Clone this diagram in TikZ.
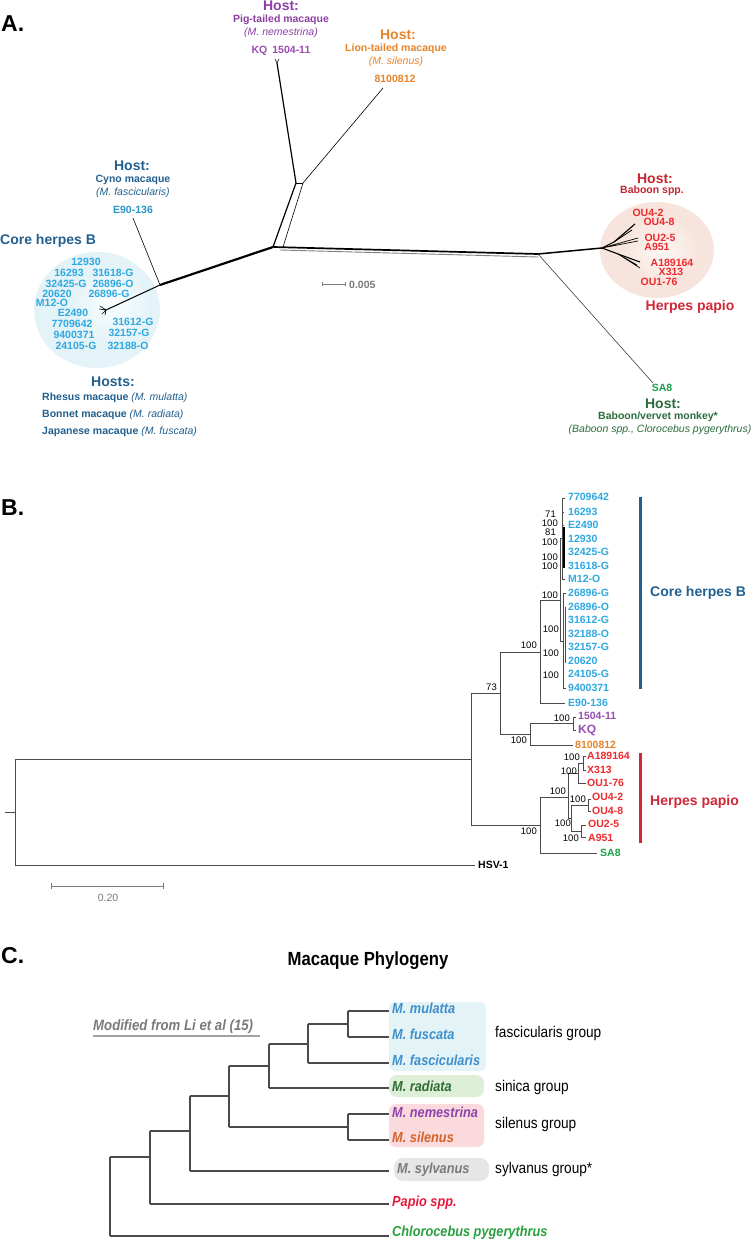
\documentclass[tikz,border=0pt]{standalone}
\usepackage{fontspec}
\setmainfont{Liberation Sans}
\newfontfamily\narrowf[FakeStretch=0.88]{Liberation Sans}
\newcommand{\fsz}[1]{\fontsize{#1}{#1}\selectfont}
\definecolor{hostblue}{HTML}{22608F}
\definecolor{leafblue}{HTML}{2EA8E0}
\definecolor{cynoleaf}{HTML}{2A93C8}
\definecolor{purp}{HTML}{8E3FA6}
\definecolor{purpleaf}{HTML}{9A4DB3}
\definecolor{orng}{HTML}{E8832A}
\definecolor{redleaf}{HTML}{EE2A2E}
\definecolor{darkred}{HTML}{C4262E}
\definecolor{papiored}{HTML}{D02839}
\definecolor{sagreen}{HTML}{1BA14B}
\definecolor{hostgreen}{HTML}{2B6E3B}
\definecolor{treegray}{HTML}{4A4A4A}
\definecolor{scalegray}{HTML}{7A7A7A}
\definecolor{cblue}{HTML}{3E8FCB}
\definecolor{cdgreen}{HTML}{2E6B35}
\definecolor{cpurple}{HTML}{8E44AD}
\definecolor{corange}{HTML}{D4622A}
\definecolor{cgray}{HTML}{7A7A7A}
\definecolor{cred}{HTML}{E8193C}
\definecolor{cgreen}{HTML}{2AA040}
\definecolor{boxcyan}{HTML}{E3F3F6}
\definecolor{boxgreen}{HTML}{DDEFD6}
\definecolor{boxpink}{HTML}{FADADD}
\definecolor{boxgray}{HTML}{E6E6E6}
\definecolor{coreout}{HTML}{E4F3F8}
\definecolor{corein}{HTML}{FAFDFE}
\definecolor{papout}{HTML}{F7E5DD}
\definecolor{papin}{HTML}{FDF8F6}
\begin{document}
\begin{tikzpicture}[x=1pt,y=-1pt,
  lf/.style={inner sep=0pt, font=\fsz{10.5}\bfseries},
  hostt/.style={inner sep=0pt, font=\fsz{14}\bfseries},
  subt/.style={inner sep=0pt, font=\fsz{10.5}\bfseries},
  spt/.style={inner sep=0pt, font=\fsz{10.5}\itshape},
  bs/.style={inner sep=0pt, anchor=east, font=\fsz{9.5}},
  panel/.style={inner sep=0pt, anchor=west, font=\fsz{23}\bfseries},
  tr/.style={draw=treegray, line width=0.9pt},
  ct/.style={draw=treegray, line width=1.1pt},
  an/.style={draw=black, line width=0.6pt},
  cl/.style={inner sep=0pt, anchor=west, font=\narrowf\fsz{14.5}\bfseries\itshape},
  grp/.style={inner sep=0pt, anchor=west, font=\narrowf\fsz{15.5}},
  bar/.style={line width=3pt}
]
\useasboundingbox (0,0) rectangle (755,1241);
\fill[white] (0,0) rectangle (755,1241);

% ================= PANEL A =================
\node[panel] (pA) at (1,24) {A.};

% background ellipses
\fill[coreout] (97,310) ellipse [x radius=63pt, y radius=58pt];
\shade[inner color=corein, outer color=coreout] (112,305) ellipse [x radius=40pt, y radius=38pt];
\fill[papout] (657,250) ellipse [x radius=57pt, y radius=48pt];
\shade[inner color=papin, outer color=papout] (660,250) ellipse [x radius=38pt, y radius=32pt];

% unrooted tree
\coordinate (kqtip) at (277,63);
\coordinate (lntip) at (383,88);
\coordinate (pign) at (296,183);
\coordinate (lionn) at (303,183);
\coordinate (cen) at (273,247);
\coordinate (cenr) at (283,247);
\coordinate (sa8n) at (538,254);
\coordinate (papn) at (602,248);
\coordinate (sa8tip) at (653,383);
\coordinate (coren) at (160,285);
\coordinate (e90tip) at (133,218);
\coordinate (coretip) at (106,310);

\draw[black, line width=1.2pt] (kqtip) -- (pign);
\draw[an] (kqtip) -- ++(-2,-4) (kqtip) -- ++(2,-4);
\draw[an] (lntip) -- (lionn);
\draw[an] (pign) -- (lionn);
\draw[black, line width=1.2pt] (pign) -- (cen);
\draw[an] (lionn) -- (cenr);
\draw[gray, line width=0.9pt] (280,250) -- (538,257);
\draw[black, line width=1.7pt] (cen) -- (sa8n);
\draw[black, line width=1.5pt] (sa8n) -- (papn);
\draw[an, draw=black!75] (sa8n) -- (sa8tip);
\draw[black, line width=1.1pt] (papn) -- (614,242) -- (635,224);
\draw[black, line width=0.8pt] (614,242) -- (632,230);
\draw[black, line width=0.7pt] (papn) -- (638,238) (papn) -- (638,241);
\draw[black, line width=1.1pt] (papn) -- (618,254) -- (640,262);
\draw[black, line width=0.7pt] (618,254) -- (640,268) (618,254) -- (637,265);
\draw[black, line width=2.2pt] (cen) -- (coren);
\draw[an] (coren) -- (e90tip);
\draw[black, line width=1.0pt] (coren) -- (coretip);
\draw[black, line width=0.6pt] (coretip) -- ++(-6,-4) (coretip) -- ++(-7,-1) (coretip) -- ++(-4,4) (coretip) -- ++(-1,5);

% scale bar A
\coordinate (sbA1) at (322,284);
\coordinate (sbA2) at (345,284);
\draw[scalegray, line width=0.7pt] (sbA1) -- (sbA2) (sbA1) ++(0,-2) -- ++(0,4) (sbA2) ++(0,-2) -- ++(0,4);
\node[inner sep=0pt, anchor=west, text=scalegray, font=\fsz{10.5}\bfseries] (sbAt) at (349,285) {0.005};

% pig-tailed
\node[hostt, text=purp] (pigH) at (281,6) {Host:};
\node[subt, text=purp] (pigS) at (281,20) {Pig-tailed macaque};
\node[spt, text=purp] (pigI) at (281,33) {(M. nemestrina)};
\node[lf, text=purpleaf] (pigL) at (281,51) {KQ\hspace{5pt}1504-11};
% lion-tailed
\node[hostt, text=orng] (lionH) at (398,35) {Host:};
\node[subt, text=orng] (lionS) at (396,49) {Lion-tailed macaque};
\node[spt, text=orng] (lionI) at (396,62) {(M. silenus)};
\node[lf, text=orng] (lionL) at (395,79) {8100812};
% cyno
\node[hostt, text=hostblue] (cynoH) at (132,166) {Host:};
\node[subt, text=hostblue] (cynoS) at (133,180) {Cyno macaque};
\node[spt, text=hostblue] (cynoI) at (133,193) {(M. fascicularis)};
\node[lf, text=cynoleaf] (cynoL) at (133,210) {E90-136};
% core
\node[inner sep=0pt, anchor=west, text=hostblue, font=\fsz{14}\bfseries] (coreA) at (0,241) {Core herpes B};
\foreach \n/\t/\x/\y in {a1/12930/86/262, a2/16293/69/273, a3/31618-G/113/273, a4/32425-G/66/284, a5/26896-O/113/284, a6/20620/57/294, a7/26896-G/109/294, a8/M12-O/52/303, a9/E2490/73/313, a10/7709642/72/324, a11/31612-G/133/322, a12/9400371/74/335, a13/32157-G/129/333, a14/24105-G/76/346, a15/32188-O/128/346}
  \node[lf, text=leafblue] (\n) at (\x,\y) {\t};
\node[hostt, text=hostblue] (hostsA) at (113,382) {Hosts:};
\node[inner sep=0pt, anchor=west, text=hostblue, font=\fsz{10.5}] (h1) at (42,398) {\bfseries Rhesus macaque \itshape\mdseries(M. mulatta)};
\node[inner sep=0pt, anchor=west, text=hostblue, font=\fsz{10.5}] (h2) at (42,415) {\bfseries Bonnet macaque \itshape\mdseries(M. radiata)};
\node[inner sep=0pt, anchor=west, text=hostblue, font=\fsz{10.5}] (h3) at (42,432) {\bfseries Japanese macaque \itshape\mdseries(M. fuscata)};
% baboon
\node[hostt, text=darkred] (babH) at (655,179) {Host:};
\node[subt, text=darkred] (babS) at (652,191) {Baboon spp.};
\foreach \n/\t/\x/\y in {p1/OU4-2/648/213, p2/OU4-8/659/222, p3/OU2-5/660/238, p4/A951/657/247, p5/A189164/672/263, p6/X313/671/272, p7/OU1-76/659/282}
  \node[lf, text=redleaf] (\n) at (\x,\y) {\t};
\node[inner sep=0pt, text=papiored, font=\fsz{14}\bfseries] (papA) at (690,307) {Herpes papio};
% SA8
\node[lf, text=sagreen] (sa8A) at (662,388) {SA8};
\node[hostt, text=hostgreen] (sa8H) at (663,404) {Host:};
\node[subt, text=hostgreen] (sa8S) at (658,417) {Baboon/vervet monkey*};
\node[spt, text=hostgreen] (sa8I) at (660,430) {(Baboon spp., Clorocebus pygerythrus)};

% ================= PANEL B =================
\node[panel] (pB) at (1,508) {B.};

\foreach \n/\t/\y in {b1/7709642/497, b2/16293/512, b3/E2490/525, b4/12930/539, b5/32425-G/552, b6/31618-G/566, b7/M12-O/579, b8/26896-G/593, b9/26896-O/607, b10/31612-G/620, b11/32188-O/634, b12/32157-G/647, b13/20620/661, b14/24105-G/674, b15/9400371/688, b16/E90-136/703}
  \node[lf, text=leafblue, anchor=west] (\n) at (568,\y) {\t};
\node[lf, text=purpleaf, anchor=west] (bKQ1) at (578,716) {1504-11};
\node[lf, text=purpleaf, anchor=west, font=\fsz{12}\bfseries] (bKQ) at (578,730) {KQ};
\node[lf, text=orng, anchor=west] (bLion) at (575,745) {8100812};
\foreach \n/\t/\x/\y in {r1/A189164/587/756, r2/X313/587/770, r3/OU1-76/587/783, r4/OU4-2/592/797, r5/OU4-8/592/811, r6/OU2-5/588/824, r7/A951/588/838}
  \node[lf, text=redleaf, anchor=west] (\n) at (\x,\y) {\t};
\node[lf, text=sagreen, anchor=west] (bSA8) at (600,853) {SA8};
\node[lf, text=black, anchor=west] (bHSV) at (478,865) {HSV-1};

% tree B
\coordinate (root) at (15,812);
\coordinate (rootU) at (15,759);
\coordinate (rootD) at (15,865);
\coordinate (nA) at (471,759);
\coordinate (nAu) at (471,693);
\coordinate (nAd) at (471,825);
\coordinate (nE) at (540,703);
\coordinate (nL) at (530,745);
\coordinate (nS) at (540,853);
\draw[tr] (5,812) -- (root);
\draw[tr] (rootU) -- (rootD);
\draw[tr] (rootU) -- (nA);
\draw[tr] (rootD) -- ([xshift=-3pt]bHSV.west |- rootD);
\draw[tr] (nAu) -- (nAd);
\draw[tr] (nAu) -- (500,693);
\draw[tr] (500,652) -- (500,734);
\draw[tr] (500,652) -- (540,652);
\draw[tr] (540,600) -- (nE);
\draw[tr] (nE) -- ([xshift=-3pt]b16.west |- nE);
\draw[tr] (540,600) -- (560,600);
\draw[tr] (560,538) -- (560,641);
\draw[tr] (560,538) -- (562,538);
\draw[tr] (560,641) -- (563,641);
\draw[tr] (562,498) -- (562,579);
\draw[tr] (562,498) -- (565,498) (562,579) -- (565,579);
\draw[black, line width=1.4pt] (564,527) -- (564,568);
\draw[tr, line width=0.7pt] (562,512) -- (564,512) (562,525) -- (564,525);
\draw[tr] (563,593) -- (563,688);
\draw[tr] (563,593) -- (566,593) (563,688) -- (566,688);
\draw[tr, line width=0.7pt] (565,607) -- (565,663);
% purple / orange clade
\draw[tr] (500,734) -- (530,734);
\draw[tr] (530,723) -- (nL);
\draw[tr] (530,723) -- (573,723);
\draw[tr] (573,717) -- (573,730);
\draw[tr] (573,717) -- (576,717) (573,730) -- (576,730);
\draw[tr] (nL) -- ([xshift=-2pt]bLion.west |- nL);
% papio clade
\draw[tr] (nAd) -- (540,825);
\draw[tr] (540,797) -- (nS);
\draw[tr] (nS) -- ([xshift=-3pt]bSA8.west |- nS);
\draw[tr] (540,797) -- (568,797);
\draw[tr] (568,773) -- (568,818);
\draw[tr] (568,773) -- (578,773);
\draw[tr] (578,763) -- (578,783);
\draw[tr] (578,763) -- (583,763);
\draw[tr] (583,756) -- (583,770);
\draw[tr] (583,756) -- (586,756) (583,770) -- (586,770);
\draw[tr] (578,783) -- (586,783);
\draw[tr] (568,818) -- (571,818);
\draw[tr] (571,805) -- (571,831);
\draw[tr] (571,805) -- (588,805);
\draw[tr] (588,799) -- (588,811);
\draw[tr] (588,799) -- (591,799) (588,811) -- (591,811);
\draw[tr] (571,831) -- (581,831);
\draw[tr] (581,825) -- (581,837);
\draw[tr] (581,825) -- (586,825) (581,837) -- (586,837);

% bootstrap labels
\node[bs] (s1) at (556,514) {71};
\node[bs] (s2) at (558,523) {100};
\node[bs] (s3) at (556,532) {81};
\node[bs] (s4) at (558,542) {100};
\node[bs] (s5) at (558,557) {100};
\node[bs] (s6) at (558,566) {100};
\node[bs] (s7) at (558,595) {100};
\node[bs] (s8) at (559,629) {100};
\node[bs] (s9) at (559,653) {100};
\node[bs] (s10) at (559,675) {100};
\node[bs] (s11) at (537,645) {100};
\node[bs] (s12) at (497,687) {73};
\node[bs] (s13) at (527,740) {100};
\node[bs] (s14) at (570,718) {100};
\node[bs] (s15) at (580,757) {100};
\node[bs] (s16) at (577,771) {100};
\node[bs] (s17) at (566,791) {100};
\node[bs] (s18) at (586,799) {100};
\node[bs] (s19) at (571,823) {100};
\node[bs] (s20) at (579,838) {100};
\node[bs] (s21) at (537,831) {100};

% clade bars
\coordinate (cb1) at (640,497);
\coordinate (cb2) at (640,689);
\draw[bar, draw=hostblue] (cb1) -- (cb2);
\node[inner sep=0pt, anchor=west, text=hostblue, font=\fsz{14}\bfseries] (coreB) at (650,593) {Core herpes B};
\coordinate (pb1) at (640,753);
\coordinate (pb2) at (640,843);
\draw[bar, draw=papiored] (pb1) -- (pb2);
\node[inner sep=0pt, anchor=west, text=papiored, font=\fsz{14}\bfseries] (papB) at (650,802) {Herpes papio};

% scale bar B
\coordinate (sbB1) at (51,886);
\coordinate (sbB2) at (163,886);
\draw[scalegray, line width=0.8pt] (sbB1) -- (sbB2) (sbB1) ++(0,-3) -- ++(0,6) (sbB2) ++(0,-3) -- ++(0,6);
\node[inner sep=0pt, text=scalegray, font=\fsz{10.5}] (sbBt) at (108,898) {0.20};

% ================= PANEL C =================
\node[panel] (pC) at (1,956) {C.};
\node[inner sep=0pt, font=\narrowf\fsz{19}\bfseries] (titleC) at (368,961) {Macaque Phylogeny};
\node[inner sep=0pt, anchor=west, text=cgray, font=\narrowf\fsz{15}\bfseries\itshape] (modC) at (93,1027) {Modified from Li et al (15)};
\draw[cgray!70, line width=1.2pt] (93,1036) -- (260,1036);

% boxes
\fill[boxcyan, rounded corners=6pt] (389,1002) rectangle (486,1071);
\fill[boxgreen, rounded corners=8pt] (389,1075) rectangle (484,1097);
\fill[boxpink, rounded corners=7pt] (389,1104) rectangle (484,1147);
\fill[boxgray, rounded corners=9pt] (394,1158) rectangle (489,1181);

% leaf labels
\node[cl, text=cblue] (c1) at (392,1008) {M. mulatta};
\node[cl, text=cblue] (c2) at (392,1034) {M. fuscata};
\node[cl, text=cblue] (c3) at (392,1060) {M. fascicularis};
\node[cl, text=cdgreen] (c4) at (392,1086) {M. radiata};
\node[cl, text=cpurple] (c5) at (392,1112) {M. nemestrina};
\node[cl, text=corange] (c6) at (392,1137) {M. silenus};
\node[cl, text=cgray] (c7) at (397,1170) {M. sylvanus};
\node[cl, text=cred] (c8) at (392,1203) {Papio spp.};
\node[cl, text=cgreen] (c9) at (392,1233) {Chlorocebus pygerythrus};

\node[grp] (g1) at (495,1033) {fascicularis group};
\node[grp] (g2) at (495,1087) {sinica group};
\node[grp] (g3) at (495,1124) {silenus group};
\node[grp] (g4) at (495,1169) {sylvanus group*};

% tree C
\draw[ct] (348,1011) -- (389,1011);
\draw[ct] (348,1037) -- (389,1037);
\draw[ct] (348,1011) -- (348,1037);
\draw[ct] (308,1024) -- (348,1024);
\draw[ct] (308,1024) -- (308,1063);
\draw[ct] (308,1063) -- (389,1063);
\draw[ct] (269,1044) -- (308,1044);
\draw[ct] (269,1044) -- (269,1088);
\draw[ct] (269,1088) -- (389,1088);
\draw[ct] (229,1066) -- (269,1066);
\draw[ct] (229,1066) -- (229,1127);
\draw[ct] (229,1127) -- (348,1127);
\draw[ct] (348,1114) -- (348,1140);
\draw[ct] (348,1114) -- (389,1114);
\draw[ct] (348,1140) -- (389,1140);
\draw[ct] (190,1096) -- (229,1096);
\draw[ct] (190,1096) -- (190,1171);
\draw[ct] (190,1171) -- (389,1171);
\draw[ct] (150,1131) -- (190,1131);
\draw[ct] (150,1131) -- (150,1204);
\draw[ct] (150,1204) -- (389,1204);
\draw[ct] (110,1157) -- (150,1157);
\draw[ct] (110,1157) -- (110,1236);
\draw[ct] (110,1236) -- (389,1236);
\end{tikzpicture}
\end{document}
